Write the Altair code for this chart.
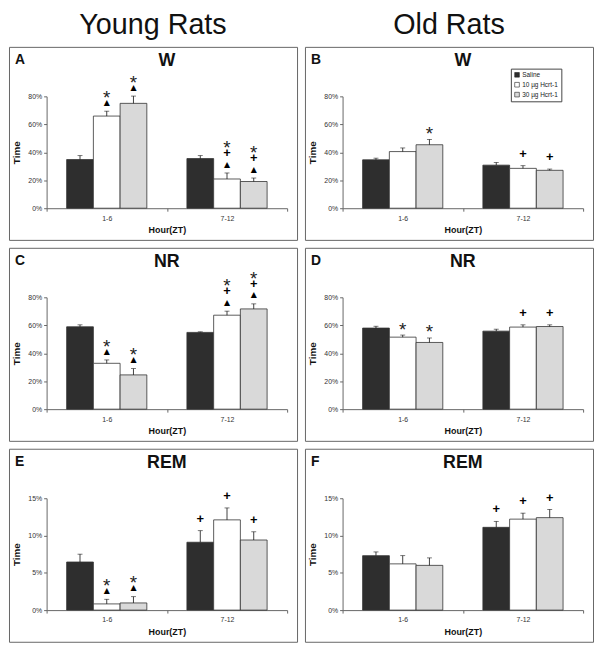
import altair as alt
import pandas as pd

hours = ["1-6", "7-12"]
treatments = ["Saline", "10 µg Hcrt-1", "30 µg Hcrt-1"]
fills = ["#2e2e2e", "#ffffff", "#d9d9d9"]

column_titles = ["Young Rats", "Old Rats"]
panel_letters = ["A", "B", "C", "D", "E", "F"]
panel_states = ["W", "W", "NR", "NR", "REM", "REM"]

# Percent of time; order = 1-6 (Saline, 10, 30), then 7-12 (Saline, 10, 30)
A_mean = [34.8, 65.9, 75.0, 35.5, 20.9, 19.1]
A_sem = [2.8, 3.5, 5.2, 2.1, 4.3, 2.5]
A_sig = ["", "*▲", "*▲", "", "*+▲", "*+▲"]

B_mean = [34.6, 40.5, 45.4, 30.8, 28.5, 27.1]
B_sem = [1.2, 2.6, 3.8, 1.9, 1.9, 0.9]
B_sig = ["", "", "*", "", "+", "+"]

C_mean = [58.9, 32.8, 24.5, 54.9, 67.2, 71.7]
C_sem = [1.4, 2.4, 4.5, 0.4, 2.9, 3.6]
C_sig = ["", "*▲", "*▲", "", "*+▲", "*+▲"]

D_mean = [58.0, 51.5, 47.7, 55.8, 58.7, 59.1]
D_sem = [1.3, 1.5, 3.2, 1.4, 1.6, 1.2]
D_sig = ["", "*", "*", "", "+", "+"]

E_mean = [6.45, 0.83, 0.96, 9.1, 12.1, 9.4]
E_sem = [1.05, 0.62, 0.84, 1.55, 1.6, 1.1]
E_sig = ["", "*▲", "*▲", "+", "+", "+"]

F_mean = [7.3, 6.2, 6.0, 11.1, 12.2, 12.4]
F_sem = [0.5, 1.1, 1.0, 0.8, 0.8, 1.1]
F_sig = ["", "", "", "+", "+", "+"]

y_max = [80, 80, 80, 80, 15, 15]
y_step = [20, 20, 20, 20, 5, 5]

series = [
    (A_mean, A_sem, A_sig),
    (B_mean, B_sem, B_sig),
    (C_mean, C_sem, C_sig),
    (D_mean, D_sem, D_sig),
    (E_mean, E_sem, E_sig),
    (F_mean, F_sem, F_sig),
]

# panel box geometry (pixels)
W, H = 291, 195
X0, X1 = 38, 281
Y0, Y1 = 163, 50

FONT = "Liberation Sans"

SYM_STYLE = {
    "*": dict(font=FONT, fontSize=19, fontWeight="normal", corr=6.5, color="#222"),
    "+": dict(font=FONT, fontSize=13, fontWeight="bold", corr=0, color="#000"),
    "▲": dict(font="DejaVu Sans", fontSize=8, fontWeight="normal", corr=0, color="#000"),
}


def panel(i):
    mean, sem, sig = series[i]
    rows = []
    for j in range(6):
        rows.append({
            "hour": hours[j // 3],
            "treatment": treatments[j % 3],
            "value": mean[j] / 100.0,
            "upper": (mean[j] + sem[j]) / 100.0,
        })
    df = pd.DataFrame(rows)

    ymax = y_max[i] / 100.0
    ticks = [k * y_step[i] / 100.0 for k in range(int(y_max[i] / y_step[i]) + 1)]

    x = alt.X(
        "hour:N", sort=hours,
        scale=alt.Scale(range=[X0, X1], paddingInner=0, paddingOuter=0),
        axis=alt.Axis(
            title="Hour(ZT)", orient="bottom", offset=-(H - Y0), tickBand="extent",
            labelAngle=0, labelFontSize=7, labelColor="#333", labelFont=FONT,
            labelPadding=3, tickSize=3, tickColor="#666", domainColor="#666",
            titleFontSize=9, titleFontWeight="bold", titleFont=FONT, titleColor="#111",
            titlePadding=5, grid=False,
        ),
    )
    xo = alt.XOffset("treatment:N", sort=treatments,
                     scale=alt.Scale(paddingInner=0, paddingOuter=0.75))
    yaxis = alt.Axis(
        title="Time", orient="left", offset=-X0, values=ticks, format=".0%",
        labelFontSize=7, labelColor="#333", labelFont=FONT, labelPadding=2,
        tickSize=3, tickColor="#666", domainColor="#666", grid=False,
        titleFontSize=10, titleFontWeight="bold", titleFont=FONT, titleColor="#111",
        titlePadding=6,
    )
    yscale = alt.Scale(domain=[0, ymax], range=[Y0, Y1], nice=False, zero=True)

    if i == 1:
        legend = alt.Legend(
            title=None, orient="none", legendX=208, legendY=22, direction="vertical",
            strokeColor="#444", padding=3, labelFontSize=6.5, labelFont=FONT,
            labelColor="#222", symbolType="square", symbolSize=22,
            symbolStrokeColor="#222", symbolStrokeWidth=0.6, rowPadding=2,
            labelOffset=2, fillColor="white",
        )
    else:
        legend = None

    base = alt.Chart(df)
    bars = base.mark_bar(stroke="#333", strokeWidth=0.8).encode(
        x=x, xOffset=xo,
        y=alt.Y("value:Q", scale=yscale, axis=yaxis),
        color=alt.Color("treatment:N", sort=treatments,
                        scale=alt.Scale(domain=treatments, range=fills), legend=legend),
    )
    err = base.mark_rule(color="#111", strokeWidth=0.8).encode(
        x=x, xOffset=xo,
        y=alt.Y("value:Q", scale=yscale, axis=yaxis),
        y2="upper:Q",
    )
    cap = base.mark_tick(color="#111", thickness=0.8, size=5).encode(
        x=x, xOffset=xo,
        y=alt.Y("upper:Q", scale=yscale, axis=yaxis),
    )
    layers = [bars, err, cap]

    # significance markers, stacked upward from the error bar top
    groups = {}
    for j in range(6):
        s = sig[j]
        base_lift = 8.5 if s.endswith("▲") else 12.0
        for k, ch in enumerate(reversed(s)):
            lift = base_lift + 11.5 * k
            groups.setdefault((ch, lift), []).append({
                "hour": hours[j // 3], "treatment": treatments[j % 3],
                "upper": (mean[j] + sem[j]) / 100.0, "sym": ch,
            })
    for (ch, lift), rws in groups.items():
        st = SYM_STYLE[ch]
        layers.append(
            alt.Chart(pd.DataFrame(rws)).mark_text(
                font=st["font"], fontSize=st["fontSize"], fontWeight=st["fontWeight"],
                baseline="middle", align="center", color=st["color"],
                dy=-lift + st["corr"],
            ).encode(
                x=x, xOffset=xo,
                y=alt.Y("upper:Q", scale=yscale, axis=yaxis),
                text="sym:N",
            )
        )

    letter = alt.Chart(pd.DataFrame({"t": [panel_letters[i]]})).mark_text(
        font=FONT, fontSize=14, fontWeight="bold", align="left", baseline="middle", color="#111"
    ).encode(text="t:N", x=alt.value(6), y=alt.value(13))
    state = alt.Chart(pd.DataFrame({"t": [panel_states[i]]})).mark_text(
        font=FONT, fontSize=18, fontWeight="bold", align="center", baseline="middle", color="#111"
    ).encode(text="t:N", x=alt.value((X0 + X1) / 2), y=alt.value(14))
    layers += [letter, state]

    return alt.layer(*layers).properties(width=W, height=H)


def resolve(c):
    return c.resolve_scale(x="independent", y="independent", color="independent",
                           xOffset="independent").resolve_legend(color="independent")


cols = []
for c in range(2):
    col = alt.vconcat(
        panel(c), panel(c + 2), panel(c + 4), spacing=6,
        title=alt.TitleParams(column_titles[c], fontSize=29, font=FONT, fontWeight="normal",
                              anchor="middle", color="#111", offset=6),
    )
    cols.append(resolve(col))

chart = resolve(alt.hconcat(*cols, spacing=6)).properties(padding=0).configure_view(
    stroke="#666", strokeWidth=1
)

chart.save("out.html", embed_options={"renderer": "svg", "actions": False})
